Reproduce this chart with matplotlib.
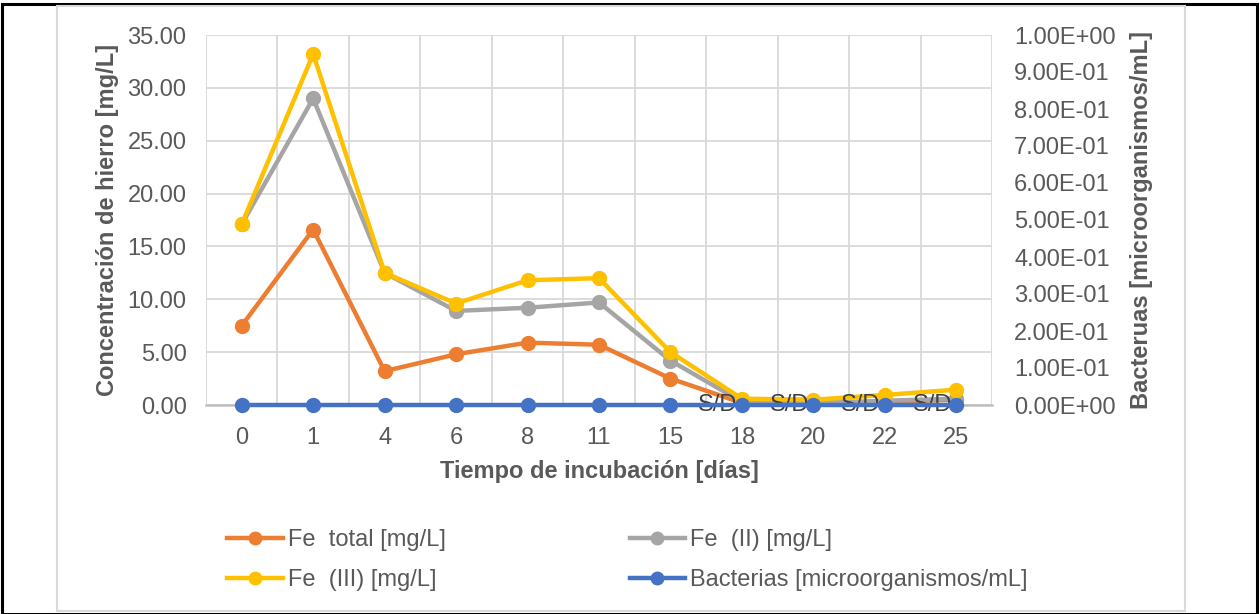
import matplotlib
matplotlib.use("Agg")
import matplotlib.pyplot as plt
from matplotlib.patches import Rectangle
from matplotlib.ticker import FixedLocator, FuncFormatter
import numpy as np

plt.rcParams['font.family'] = ['Liberation Sans', 'DejaVu Sans']

dias = ["0", "1", "4", "6", "8", "11", "15", "18", "20", "22", "25"]
fe_total = [7.5, 16.6, 3.2, 4.8, 5.9, 5.7, 2.5, 0.2, 0.1, 0.3, 0.5]
fe_ii = [17.1, 29.0, 12.5, 8.9, 9.2, 9.7, 4.2, 0.3, 0.2, 0.4, 0.6]
fe_iii = [17.1, 33.2, 12.5, 9.6, 11.8, 12.0, 5.0, 0.6, 0.5, 0.95, 1.45]
bacterias = [0, 0, 0, 0, 0, 0, 0, 0, 0, 0, 0]
sin_dato = ["", "", "", "", "", "", "", "S/D", "S/D", "S/D", "S/D"]

c_total = "#ED7D31"
c_ii = "#A5A5A5"
c_iii = "#FFC000"
c_bact = "#4472C4"
txt = "#595959"
fs = 17

W, H = 1260, 614
fig = plt.figure(figsize=(W / 100, H / 100), dpi=100)

# outer frame + chart border
fig.patches.append(Rectangle((2 / W, 0), (1257 - 2) / W, 1 - 4 / H, transform=fig.transFigure,
                             fill=False, edgecolor="black", linewidth=2.2))
fig.patches.append(Rectangle((57 / W, 1 - 611 / H), (1185 - 57) / W, (611 - 6) / H,
                             transform=fig.transFigure, fill=False, edgecolor="#d9d9d9", linewidth=1.5))

ax = fig.add_axes([206 / W, 1 - 405 / H, (992 - 206) / W, (405 - 35) / H])
x = np.arange(len(dias))

lw, ms = 3.2, 10
ax.plot(x, fe_total, color=c_total, lw=lw, marker="o", ms=ms, label="Fe  total [mg/L]", zorder=3)
ax.plot(x, fe_ii, color=c_ii, lw=lw, marker="o", ms=ms, label="Fe  (II) [mg/L]", zorder=4)
ax.plot(x, fe_iii, color=c_iii, lw=lw, marker="o", ms=ms, label="Fe  (III) [mg/L]", zorder=5)

ax.set_xlim(-0.5, len(dias) - 0.5)
ax.set_ylim(0, 35)
ax.set_yticks(np.arange(0, 36, 5))
ax.yaxis.set_major_formatter(FuncFormatter(lambda v, p: f"{v:.2f}"))
ax.set_xticks(x)
ax.set_xticklabels(dias)
ax.xaxis.set_minor_locator(FixedLocator(np.arange(-0.5, len(dias), 1)))
ax.grid(True, axis="y", which="major", color="#d9d9d9", lw=1.3, zorder=0)
ax.grid(True, axis="x", which="minor", color="#d9d9d9", lw=1.3, zorder=0)
ax.tick_params(axis="both", which="both", length=0, labelsize=fs, labelcolor=txt)
ax.tick_params(axis="x", pad=16)
ax.tick_params(axis="y", pad=14)
for s in ["left", "right", "top"]:
    ax.spines[s].set_visible(False)
ax.spines["bottom"].set_color("#bfbfbf")
ax.spines["bottom"].set_linewidth(1.8)
ax.set_axisbelow(True)

ax.set_xlabel("Tiempo de incubación [días]", fontsize=fs, fontweight="bold", color=txt, labelpad=8)
ax.set_ylabel("Concentración de hierro [mg/L]", fontsize=fs, fontweight="bold", color=txt, labelpad=6)

ax2 = ax.twinx()
ax2.plot(x, bacterias, color=c_bact, lw=lw, marker="o", ms=ms, label="Bacterias [microorganismos/mL]",
         clip_on=False, zorder=6)
for xi, yi, s in zip(x, bacterias, sin_dato):
    if s:
        ax2.annotate(s, (xi, yi), xytext=(-3, 0), textcoords="offset points", ha="right", va="center",
                     fontsize=fs, color="#404040")
ax2.set_ylim(0, 1)
ax2.set_yticks(np.arange(0, 1.01, 0.1))
ax2.yaxis.set_major_formatter(FuncFormatter(lambda v, p: f"{v:.2E}"))
ax2.tick_params(axis="y", length=0, labelsize=fs, labelcolor=txt, pad=16)
for s in ["left", "right", "top", "bottom"]:
    ax2.spines[s].set_visible(False)
ax2.set_ylabel("Bacteruas [microorganismos/mL]", fontsize=fs, fontweight="bold", color=txt,
               rotation=90, labelpad=10)

h1, l1 = ax.get_legend_handles_labels()
h2, l2 = ax2.get_legend_handles_labels()
handles = [h1[0], h1[2], h1[1], h2[0]]
labels = [l1[0], l1[2], l1[1], l2[0]]
leg = fig.legend(handles, labels, ncol=2, loc="upper left", bbox_to_anchor=(218 / W, 1 - 520 / H),
                 frameon=False, fontsize=fs, handlelength=2.35, handletextpad=0.2,
                 columnspacing=7.8, labelspacing=0.74, borderaxespad=0, markerscale=0.9)
for t in leg.get_texts():
    t.set_color(txt)

fig.savefig("out.png", dpi=100)
